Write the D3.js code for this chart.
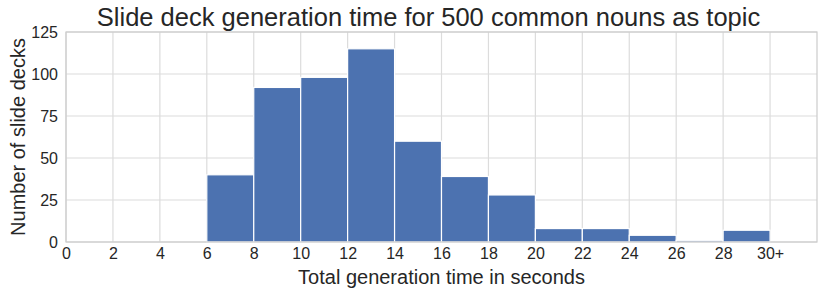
<!DOCTYPE html>
<html>
<head>
<meta charset="utf-8">
<script src="https://cdn.jsdelivr.net/npm/d3@7"></script>
<style>
  body { margin: 0; background: #fff; }
  svg { font-family: "Liberation Sans", Arial, sans-serif; }
</style>
</head>
<body>
<svg id="chart" width="830" height="297"></svg>
<script>
// histogram bins (seconds), last bin is 28-30 shown as "30+"
const binStarts = [6, 8, 10, 12, 14, 16, 18, 20, 22, 24, 26, 28];
const counts = [40, 92, 98, 115, 60, 39, 28, 8, 8, 4, 1, 7];
const xTicks = [0, 2, 4, 6, 8, 10, 12, 14, 16, 18, 20, 22, 24, 26, 28, 30];
const yTicks = [0, 25, 50, 75, 100, 125];
const binWidth = 2;

const svg = d3.select("#chart");
const margin = { left: 66, right: 13, top: 32, bottom: 55 };
const W = 830, H = 297;

const x = d3.scaleLinear().domain([0, 32]).range([margin.left, W - margin.right]);
const y = d3.scaleLinear().domain([0, 125]).range([H - margin.bottom, margin.top]);

// grid
svg.append("g")
  .selectAll("line.gx")
  .data(xTicks)
  .enter()
  .append("line")
  .attr("x1", (d) => x(d)).attr("x2", (d) => x(d))
  .attr("y1", y(0)).attr("y2", y(125))
  .style("stroke", "#dcdcdc")
  .style("stroke-width", 1.2);

svg.append("g")
  .selectAll("line.gy")
  .data(yTicks)
  .enter()
  .append("line")
  .attr("x1", x(0)).attr("x2", x(32))
  .attr("y1", (d) => y(d)).attr("y2", (d) => y(d))
  .style("stroke", "#dcdcdc")
  .style("stroke-width", 1.2);

// bars
svg.append("g")
  .selectAll("rect")
  .data(binStarts)
  .enter()
  .append("rect")
  .attr("x", (d) => x(d))
  .attr("width", (d) => x(d + binWidth) - x(d))
  .attr("y", (d, i) => y(counts[i]))
  .attr("height", (d, i) => y(0) - y(counts[i]))
  .style("fill", "#4c72b0")
  .style("stroke", "#ffffff")
  .style("stroke-width", 1.2);

// frame
svg.append("rect")
  .attr("x", x(0)).attr("y", y(125))
  .attr("width", x(32) - x(0)).attr("height", y(0) - y(125))
  .style("fill", "none")
  .style("stroke", "#cccccc")
  .style("stroke-width", 1.2);

// tick labels
const xAxis = d3.axisBottom(x).tickValues(xTicks).tickSize(0).tickPadding(6)
  .tickFormat((d) => d === 30 ? "30+" : d);
const gx = svg.append("g").attr("transform", `translate(0,${y(0)})`).call(xAxis);
gx.select(".domain").remove();
gx.selectAll("text").style("font-size", "16px").style("fill", "#262626")
  .style("font-family", "Liberation Sans, Arial, sans-serif");

const yAxis = d3.axisLeft(y).tickValues(yTicks).tickSize(0).tickPadding(8);
const gy = svg.append("g").attr("transform", `translate(${x(0)},0)`).call(yAxis);
gy.select(".domain").remove();
gy.selectAll("text").style("font-size", "16px").style("fill", "#262626")
  .style("font-family", "Liberation Sans, Arial, sans-serif");

// labels
svg.append("text")
  .attr("x", (x(0) + x(32)) / 2 - 13).attr("y", 26)
  .attr("text-anchor", "middle")
  .style("font-size", "25.5px").style("fill", "#262626")
  .text("Slide deck generation time for 500 common nouns as topic");

svg.append("text")
  .attr("x", (x(0) + x(32)) / 2).attr("y", 284)
  .attr("text-anchor", "middle")
  .style("font-size", "20px").style("fill", "#262626")
  .text("Total generation time in seconds");

svg.append("text")
  .attr("transform", `translate(25,${(y(0) + y(125)) / 2}) rotate(-90)`)
  .attr("text-anchor", "middle")
  .style("font-size", "20px").style("fill", "#262626")
  .text("Number of slide decks");
</script>
</body>
</html>
